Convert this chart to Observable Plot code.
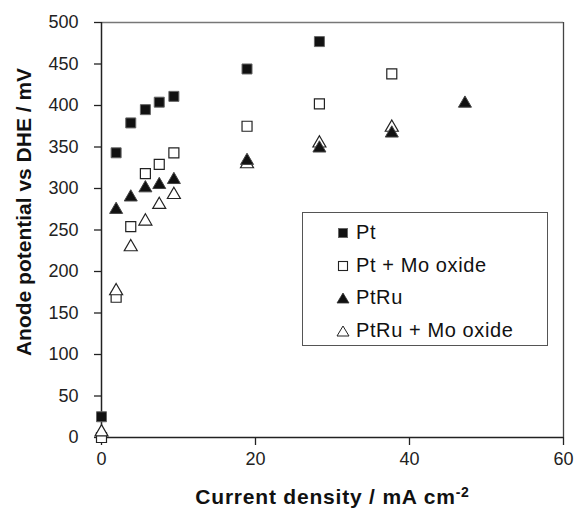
<!DOCTYPE html>
<html><head><meta charset="utf-8">
<script src="https://cdn.jsdelivr.net/npm/d3@7"></script>
<script src="https://cdn.jsdelivr.net/npm/@observablehq/plot@0.6"></script>
<style>
html,body{margin:0;padding:0;background:#fff;}
#wrap{position:relative;width:575px;height:512px;font-family:"Liberation Sans",Arial,sans-serif;}
#legend{position:absolute;left:302px;top:212px;width:246px;height:134px;border:1.5px solid #555;box-sizing:border-box;background:#fff;}
.row{position:absolute;left:0;height:22px;font-size:20px;letter-spacing:0.6px;color:#111;white-space:nowrap;}
.row svg{position:absolute;left:33px;top:5px;}
.row span{position:absolute;left:53px;top:0;line-height:22px;}
</style></head><body><div id="wrap"></div>
<script>
// Current density (mA cm^-2)
const current = [0, 1.9, 3.8, 5.7, 7.5, 9.4, 18.9, 28.3, 37.7, 47.2];
// Anode potential vs DHE (mV), indexed like `current` (null = no point)
const ptValues     = [25, 343, 379, 395, 404, 411, 444, 477];
const ptMoValues   = [0, 169, 254, 318, 329, 343, 375, 402, 438];
const ptRuValues   = [null, 276, 291, 302, 306, 312, 335, 350, 368, 404];
const ptRuMoValues = [8, 178, 231, 262, 282, 294, 331, 356, 375];
const seriesNames  = ["Pt", "Pt + Mo oxide", "PtRu", "PtRu + Mo oxide"];
const xTicks = [0, 20, 40, 60];
const yTicks = [0, 50, 100, 150, 200, 250, 300, 350, 400, 450, 500];
const xTitle = "Current density / mA cm";
const xTitleSup = "-2";
const yTitle = "Anode potential vs DHE / mV";

function rowsOf(vals, name) {
  const out = [];
  vals.forEach((v, i) => { if (v != null) out.push({x: current[i], y: v, s: name}); });
  return out;
}
const ptRows = rowsOf(ptValues, seriesNames[0]);
const ptMoRows = rowsOf(ptMoValues, seriesNames[1]);
const ptRuRows = rowsOf(ptRuValues, seriesNames[2]);
const ptRuMoRows = rowsOf(ptRuMoValues, seriesNames[3]);

const sq = {draw(ctx, size) { const r = Math.sqrt(size / Math.PI); ctx.moveTo(-r, -r); ctx.lineTo(r, -r); ctx.lineTo(r, r); ctx.lineTo(-r, r); ctx.closePath(); }};
const tri = {draw(ctx, size) { const r = Math.sqrt(size / Math.PI); ctx.moveTo(0, -1.25 * r); ctx.lineTo(1.3 * r, r); ctx.lineTo(-1.3 * r, r); ctx.closePath(); }};

const plot = Plot.plot({
  width: 575, height: 512,
  marginLeft: 101, marginRight: 12, marginTop: 22, marginBottom: 75,
  style: {fontFamily: "'Liberation Sans', Arial, sans-serif", fontSize: "18px", color: "#222", background: "#fff"},
  x: {domain: [0, 60]},
  y: {domain: [0, 500]},
  marks: [
    Plot.ruleY([500], {stroke: "#777", strokeWidth: 1.5}),
    Plot.ruleX([60], {stroke: "#444", strokeWidth: 1.3}),
    Plot.axisY({ticks: yTicks, tickSize: 7, tickPadding: 16, fontSize: 18, label: null, stroke: "#222", strokeWidth: 1.3}),
    Plot.axisX({ticks: xTicks, tickSize: 8, tickPadding: 7, fontSize: 18, label: null, stroke: "#222", strokeWidth: 1.3}),
    Plot.ruleY([0], {stroke: "#222", strokeWidth: 1.5}),
    Plot.ruleX([0], {stroke: "#222", strokeWidth: 1.5}),
    Plot.dot(ptMoRows, {x: "x", y: "y", symbol: sq, r: 5, fill: "#fff", stroke: "#222", strokeWidth: 1.2}),
    Plot.dot(ptRuMoRows, {x: "x", y: "y", symbol: tri, r: 5, fill: "#fff", stroke: "#222", strokeWidth: 1.2}),
    Plot.dot(ptRows, {x: "x", y: "y", symbol: sq, r: 5, fill: "#111", stroke: "#666", strokeWidth: 1}),
    Plot.dot(ptRuRows, {x: "x", y: "y", symbol: tri, r: 5, fill: "#111", stroke: "#444", strokeWidth: 1}),
    Plot.text([yTitle], {text: d => d, frameAnchor: "left", textAnchor: "middle", rotate: -90, dx: -77, dy: -18, lineAnchor: "middle", fontSize: 21, fontWeight: "bold", fill: "#111"}),
    Plot.text([xTitle], {text: d => d, frameAnchor: "bottom", textAnchor: "middle", dy: 60, lineAnchor: "middle", fontSize: 21, fontWeight: "bold", fill: "#111"})
  ]
});
d3.select(plot).selectAll("text").filter(function() { return this.textContent === xTitle; })
  .style("letter-spacing", "0.8px")
  .append("tspan").attr("dy", "-0.55em").attr("font-size", "14px").text(xTitleSup);

const wrap = document.getElementById("wrap");
wrap.appendChild(plot);

// legend
const legend = document.createElement("div");
legend.id = "legend";
const legendSymbols = [
  '<svg width="14" height="14"><rect x="2.5" y="2.5" width="9" height="9" fill="#111" stroke="#666" stroke-width="1"/></svg>',
  '<svg width="14" height="14"><rect x="2.5" y="2.5" width="9" height="9" fill="#fff" stroke="#222" stroke-width="1.1"/></svg>',
  '<svg width="14" height="14"><path d="M7,2 L13,12 L1,12 Z" fill="#111" stroke="#333" stroke-width="0.8"/></svg>',
  '<svg width="14" height="14"><path d="M7,2 L13,12 L1,12 Z" fill="#fff" stroke="#222" stroke-width="1"/></svg>'
];
const rowTops = [8, 41, 73, 106];
seriesNames.forEach((name, i) => {
  const row = document.createElement("div");
  row.className = "row";
  row.style.top = rowTops[i] + "px";
  row.innerHTML = legendSymbols[i] + "<span></span>";
  row.querySelector("span").textContent = name;
  legend.appendChild(row);
});
wrap.appendChild(legend);
</script></body></html>
